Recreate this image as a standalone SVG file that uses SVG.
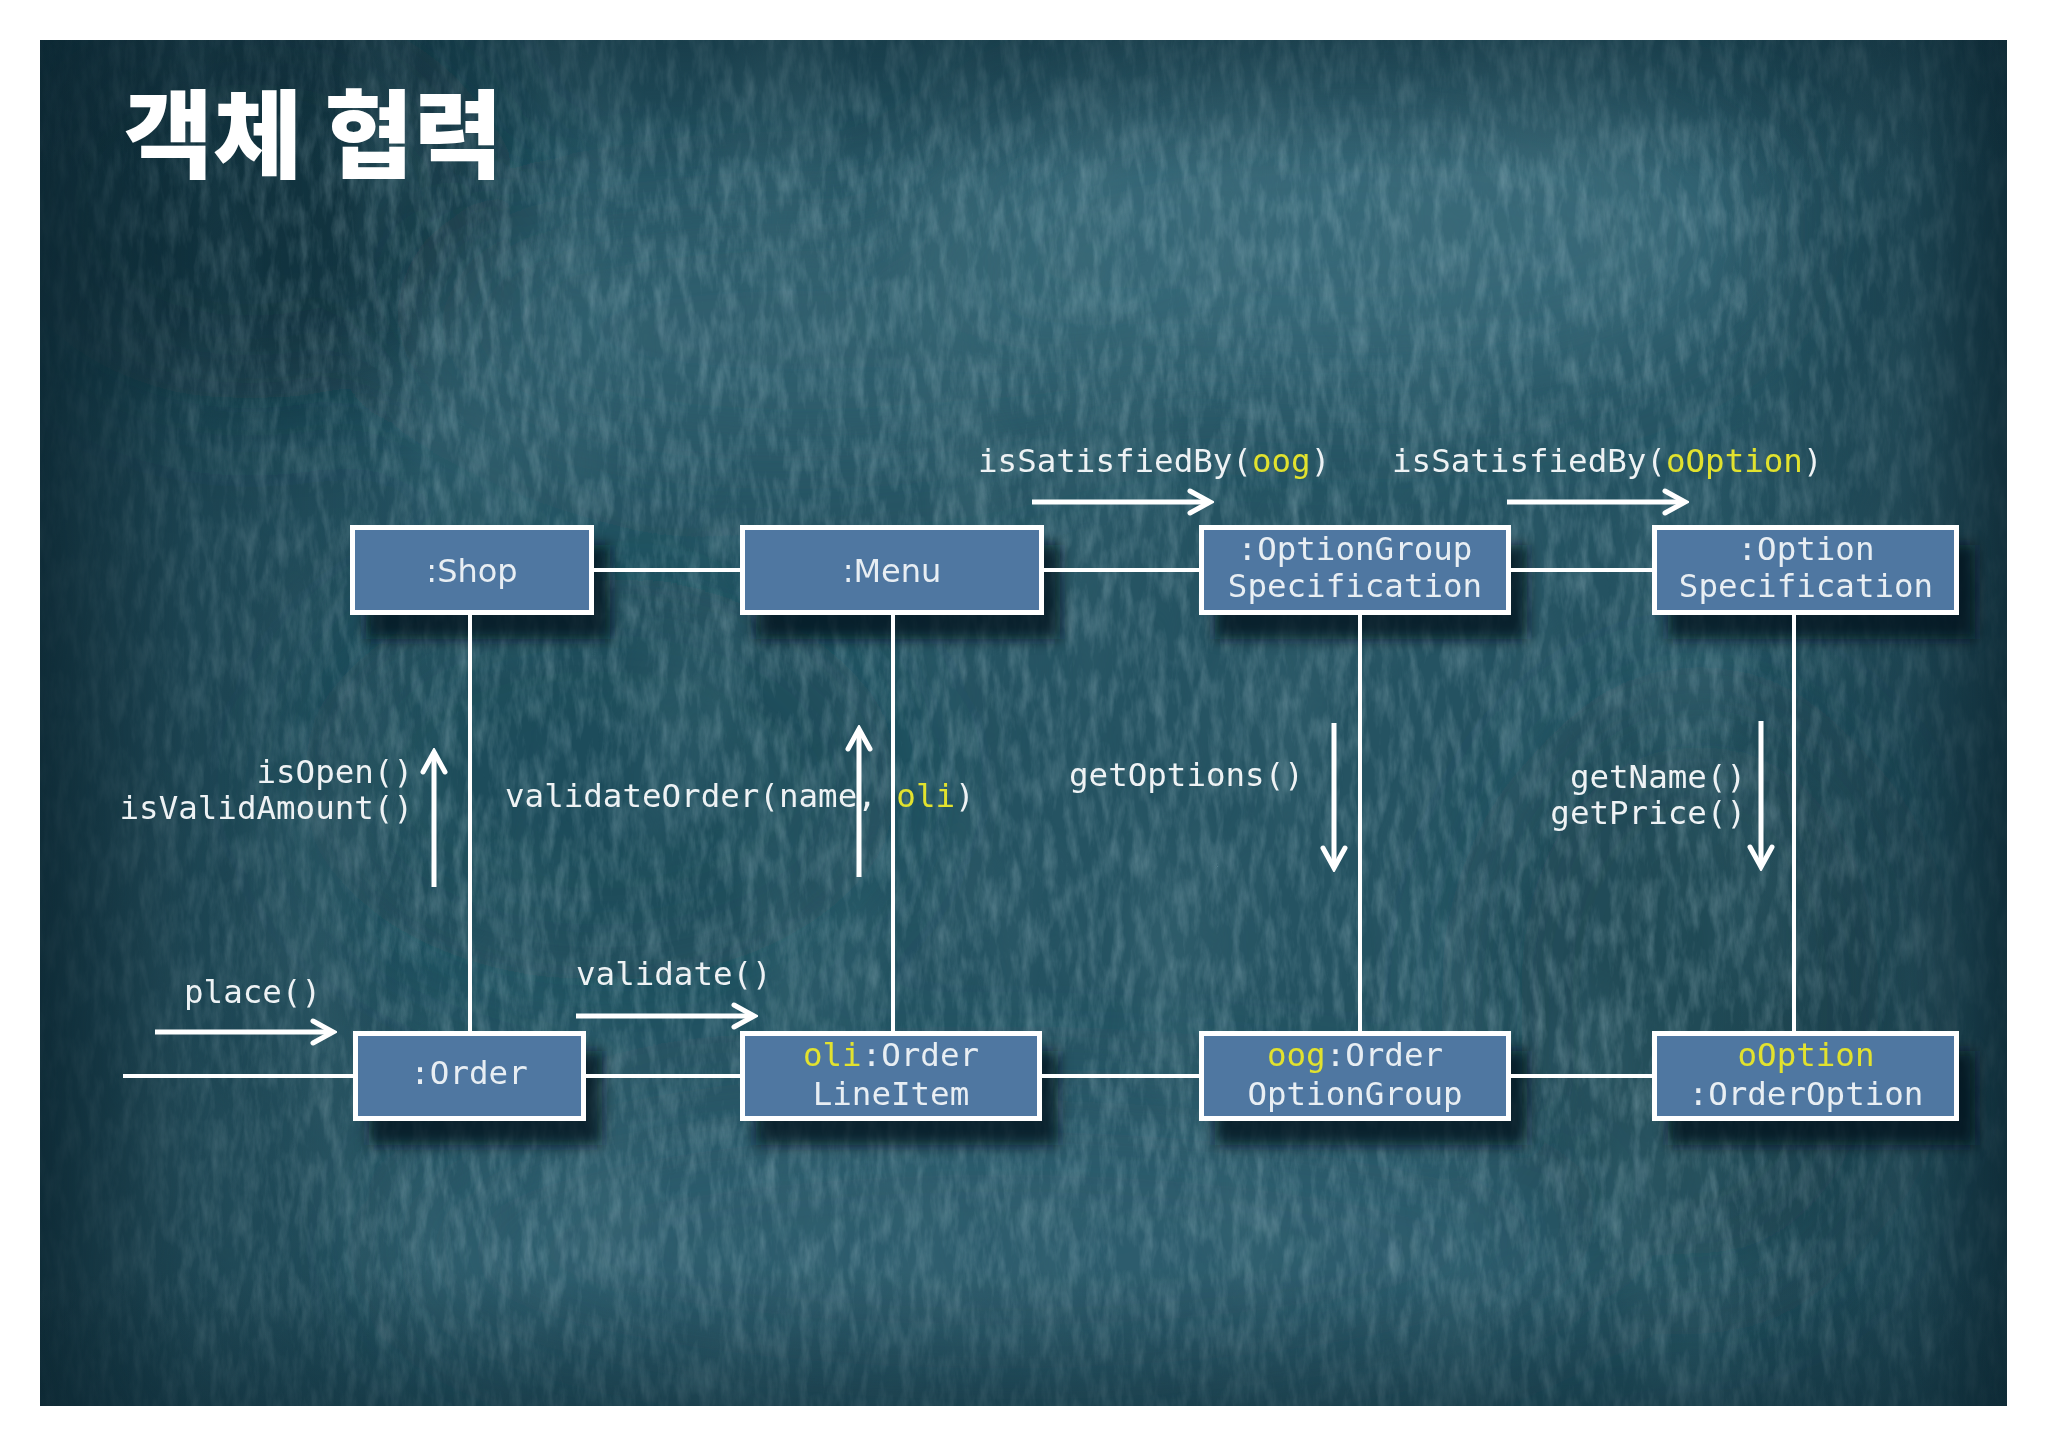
<svg xmlns="http://www.w3.org/2000/svg" width="2048" height="1447" viewBox="0 0 2048 1447">
  <defs>
    <style>
      .lbl { font-family: "DejaVu Sans Mono", "Liberation Mono", monospace; font-size: 32.5px; fill: #eef2f4; }
      .nlbl { font-family: "DejaVu Sans Mono", "Liberation Mono", monospace; font-size: 32.5px; fill: #e8eef3; text-anchor: middle; }
      .slbl { font-family: "DejaVu Sans", "Liberation Sans", sans-serif; font-size: 32px; fill: #e8eef3; text-anchor: middle; }
      .hl { fill: #e2e22e; }
      .box { fill: #4f77a1; stroke: #ffffff; stroke-width: 5; }
      .shadow { fill: #06161d; opacity: 0.75; }
      .conn { stroke: #ffffff; stroke-width: 4; fill: none; }
      .msg { stroke: #ffffff; stroke-width: 5; fill: none; marker-end: url(#chev); }
    </style>
    <clipPath id="panel">
      <rect x="40" y="40" width="1967" height="1366"/>
    </clipPath>
    <marker id="chev" markerUnits="userSpaceOnUse" markerWidth="28" markerHeight="28" viewBox="0 0 28 28" refX="24" refY="14" orient="auto">
      <path d="M4,3 L24,14 L4,25" fill="none" stroke="#ffffff" stroke-width="5" stroke-linejoin="miter" stroke-linecap="round"/>
    </marker>
    <filter id="blur" x="-20%" y="-40%" width="140%" height="180%">
      <feGaussianBlur stdDeviation="7"/>
    </filter>
    <filter id="bigblur" x="-50%" y="-50%" width="200%" height="200%">
      <feGaussianBlur stdDeviation="60"/>
    </filter>
    <filter id="grain" x="0" y="0" width="100%" height="100%">
      <feTurbulence type="fractalNoise" baseFrequency="0.09 0.025" numOctaves="4" seed="7"/>
      <feColorMatrix type="matrix" values="0 0 0 0 0.55  0 0 0 0 0.74  0 0 0 0 0.8  1.4 0 0 0 -0.55"/>
    </filter>
    <filter id="dgrain" x="0" y="0" width="100%" height="100%">
      <feTurbulence type="fractalNoise" baseFrequency="0.008 0.003" numOctaves="3" seed="21"/>
      <feColorMatrix type="matrix" values="0 0 0 0 0.05  0 0 0 0 0.15  0 0 0 0 0.19  1.6 0 0 0 -0.68"/>
    </filter>
    <linearGradient id="edgeH" x1="0" y1="0" x2="1" y2="0">
      <stop offset="0" stop-color="#0b2530" stop-opacity="0.85"/>
      <stop offset="0.08" stop-color="#0b2530" stop-opacity="0.3"/>
      <stop offset="0.2" stop-color="#0b2530" stop-opacity="0"/>
      <stop offset="0.85" stop-color="#0b2530" stop-opacity="0"/>
      <stop offset="0.95" stop-color="#0b2530" stop-opacity="0.35"/>
      <stop offset="1" stop-color="#0b2530" stop-opacity="0.8"/>
    </linearGradient>
    <linearGradient id="edgeV" x1="0" y1="0" x2="0" y2="1">
      <stop offset="0" stop-color="#0b2530" stop-opacity="0.45"/>
      <stop offset="0.1" stop-color="#0b2530" stop-opacity="0"/>
      <stop offset="0.9" stop-color="#0b2530" stop-opacity="0"/>
      <stop offset="1" stop-color="#0b2530" stop-opacity="0.45"/>
    </linearGradient>
  </defs>

  <rect x="0" y="0" width="2048" height="1447" fill="#ffffff"/>

  <g id="background" clip-path="url(#panel)">
    <rect x="40" y="40" width="1967" height="1366" fill="#255362"/>
    <g filter="url(#bigblur)">
      <ellipse cx="1350" cy="230" rx="420" ry="160" fill="#3f7282" opacity="0.7"/>
      <ellipse cx="800" cy="330" rx="380" ry="120" fill="#376877" opacity="0.6"/>
      <ellipse cx="250" cy="200" rx="260" ry="200" fill="#112f3c" opacity="0.8"/>
      <ellipse cx="1000" cy="1250" rx="600" ry="150" fill="#336474" opacity="0.6"/>
      <ellipse cx="1700" cy="1000" rx="220" ry="300" fill="#1a4250" opacity="0.6"/>
      <ellipse cx="600" cy="780" rx="300" ry="200" fill="#1c4654" opacity="0.5"/>
    </g>
    <rect x="40" y="40" width="1967" height="1366" filter="url(#dgrain)" opacity="0.6"/>
    <rect x="40" y="40" width="1967" height="1366" filter="url(#grain)" opacity="0.35"/>
    <rect x="40" y="40" width="1967" height="1366" fill="url(#edgeH)"/>
    <rect x="40" y="40" width="1967" height="1366" fill="url(#edgeV)"/>
  </g>

  <g id="title">
    <text x="124" y="170" font-family="'Noto Sans CJK KR', 'Noto Sans CJK SC', sans-serif" font-size="96" font-weight="900" fill="#ffffff" textLength="379" lengthAdjust="spacingAndGlyphs">객체 협력</text>
  </g>

  <g id="shadows" filter="url(#blur)">
    <rect class="shadow" x="366" y="545" width="244" height="94"/>
    <rect class="shadow" x="756" y="545" width="304" height="94"/>
    <rect class="shadow" x="1215" y="545" width="312" height="94"/>
    <rect class="shadow" x="1668" y="545" width="307" height="94"/>
    <rect class="shadow" x="369" y="1051" width="233" height="94"/>
    <rect class="shadow" x="756" y="1051" width="302" height="94"/>
    <rect class="shadow" x="1215" y="1051" width="312" height="94"/>
    <rect class="shadow" x="1668" y="1051" width="307" height="94"/>
  </g>

  <g id="connectors">
    <line class="conn" x1="594" y1="570" x2="740" y2="570"/>
    <line class="conn" x1="1044" y1="570" x2="1199" y2="570"/>
    <line class="conn" x1="1511" y1="570" x2="1652" y2="570"/>
    <line class="conn" x1="123" y1="1076" x2="353" y2="1076"/>
    <line class="conn" x1="586" y1="1076" x2="740" y2="1076"/>
    <line class="conn" x1="1042" y1="1076" x2="1199" y2="1076"/>
    <line class="conn" x1="1511" y1="1076" x2="1652" y2="1076"/>
    <line class="conn" x1="470" y1="615" x2="470" y2="1031"/>
    <line class="conn" x1="893" y1="615" x2="893" y2="1031"/>
    <line class="conn" x1="1360" y1="615" x2="1360" y2="1031"/>
    <line class="conn" x1="1794" y1="615" x2="1794" y2="1031"/>
  </g>

  <g id="messages">
    <text class="lbl" x="978" y="472">isSatisfiedBy(<tspan class="hl">oog</tspan>)</text>
    <line class="msg" x1="1032" y1="502" x2="1210" y2="502"/>

    <text class="lbl" x="1392" y="472">isSatisfiedBy(<tspan class="hl">oOption</tspan>)</text>
    <line class="msg" x1="1507" y1="502" x2="1685" y2="502"/>

    <text class="lbl" x="413" y="783" text-anchor="end">isOpen()</text>
    <text class="lbl" x="413" y="819" text-anchor="end">isValidAmount()</text>
    <line class="msg" x1="434" y1="887" x2="434" y2="752"/>

    <text class="lbl" x="505" y="807">validateOrder(name, <tspan class="hl">oli</tspan>)</text>
    <line class="msg" x1="859" y1="877" x2="859" y2="729"/>

    <text class="lbl" x="1069" y="786">getOptions()</text>
    <line class="msg" x1="1334" y1="723" x2="1334" y2="868"/>

    <text class="lbl" x="1746" y="788" text-anchor="end">getName()</text>
    <text class="lbl" x="1746" y="824" text-anchor="end">getPrice()</text>
    <line class="msg" x1="1761" y1="721" x2="1761" y2="867"/>

    <text class="lbl" x="184" y="1003">place()</text>
    <line class="msg" x1="155" y1="1032" x2="333" y2="1032"/>

    <text class="lbl" x="576" y="985">validate()</text>
    <line class="msg" x1="576" y1="1016" x2="754" y2="1016"/>
  </g>

  <g id="node-shop">
    <rect class="box" x="352.5" y="527.5" width="239" height="85"/>
    <text class="slbl" x="472" y="582">:Shop</text>
  </g>
  <g id="node-menu">
    <rect class="box" x="742.5" y="527.5" width="299" height="85"/>
    <text class="slbl" x="892" y="582">:Menu</text>
  </g>
  <g id="node-optiongroup-spec">
    <rect class="box" x="1201.5" y="527.5" width="307" height="85"/>
    <text class="nlbl" x="1355" y="560">:OptionGroup</text>
    <text class="nlbl" x="1355" y="597">Specification</text>
  </g>
  <g id="node-option-spec">
    <rect class="box" x="1654.5" y="527.5" width="302" height="85"/>
    <text class="nlbl" x="1806" y="560">:Option</text>
    <text class="nlbl" x="1806" y="597">Specification</text>
  </g>
  <g id="node-order">
    <rect class="box" x="355.5" y="1033.5" width="228" height="85"/>
    <text class="nlbl" x="469" y="1084">:Order</text>
  </g>
  <g id="node-orderlineitem">
    <rect class="box" x="742.5" y="1033.5" width="297" height="85"/>
    <text class="nlbl" x="891" y="1066"><tspan class="hl">oli</tspan>:Order</text>
    <text class="nlbl" x="891" y="1105">LineItem</text>
  </g>
  <g id="node-orderoptiongroup">
    <rect class="box" x="1201.5" y="1033.5" width="307" height="85"/>
    <text class="nlbl" x="1355" y="1066"><tspan class="hl">oog</tspan>:Order</text>
    <text class="nlbl" x="1355" y="1105">OptionGroup</text>
  </g>
  <g id="node-orderoption">
    <rect class="box" x="1654.5" y="1033.5" width="302" height="85"/>
    <text class="nlbl hl" x="1806" y="1066">oOption</text>
    <text class="nlbl" x="1806" y="1105">:OrderOption</text>
  </g>
</svg>
